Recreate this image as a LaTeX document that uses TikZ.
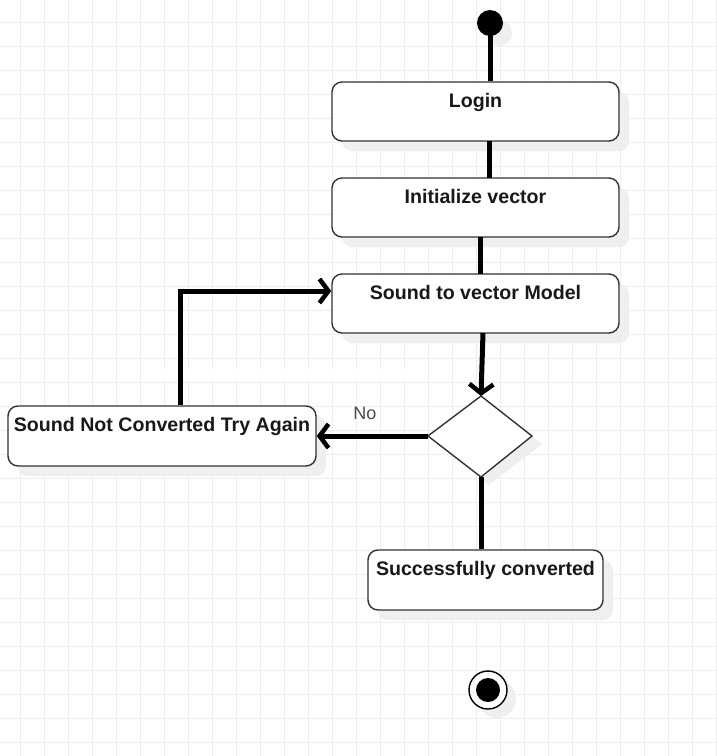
\documentclass[tikz,border=0pt]{standalone}
\usepackage{fontspec}
\setmainfont{Liberation Sans}
\usetikzlibrary{arrows.meta}
\definecolor{gridc}{HTML}{EDEDED}
\definecolor{shadowc}{HTML}{EFEFEF}
\definecolor{edgec}{HTML}{333333}
\tikzset{
  statebox/.style={draw=edgec, line width=1.4pt, fill=white, rounded corners=10pt},
  shadowbox/.style={fill=shadowc, rounded corners=10pt},
  boxlabel/.style={anchor=north, font=\fontsize{19.6}{22}\selectfont\bfseries, text=black!90, inner sep=0pt},
  flow/.style={line width=5pt, draw=black},
  flowarrow/.style={flow, -{Straight Barb[length=9pt, width=24pt, line width=4.5pt]}},
}
\begin{document}
\begin{tikzpicture}[x=1pt, y=-1pt]
\useasboundingbox (0,0) rectangle (717,756);
\fill[white] (0,0) rectangle (717,756);
% grid
\foreach \gx in {20,44,...,716} \draw[gridc, line width=1pt] (\gx,0) -- (\gx,756);
\foreach \gy in {22,46,...,755} \draw[gridc, line width=1pt] (0,\gy) -- (717,\gy);
\fill[white] (145,369) rectangle (425,381);
% shadows
\fill[shadowc] (499,33) circle (13);
\fill[shadowc] (497,699) circle (19);
\fill[shadowbox] (342,92) rectangle (629,151);
\fill[shadowbox] (342,188) rectangle (629,247);
\fill[shadowbox] (342,284) rectangle (629,343);
\fill[shadowbox] (18,416) rectangle (326,476);
\fill[shadowbox] (378,560) rectangle (613,620);
\fill[shadowc] (490,404) -- (542,444) -- (489,485) -- (438,444) -- cycle;
% nodes
\node[circle, fill=black, minimum size=26pt, inner sep=0pt] (start) at (490,23) {};
\node[statebox, minimum width=287pt, minimum height=59pt, inner sep=0pt] (login) at (475.5,111.5) {};
\node[statebox, minimum width=287pt, minimum height=59pt, inner sep=0pt] (init) at (475.5,207.5) {};
\node[statebox, minimum width=287pt, minimum height=59pt, inner sep=0pt] (model) at (475.5,303.5) {};
\node[statebox, minimum width=308pt, minimum height=60pt, inner sep=0pt] (retry) at (162,436) {};
\node[statebox, minimum width=235pt, minimum height=60pt, inner sep=0pt] (done) at (485.5,580) {};
\draw[edgec, line width=1.4pt, fill=white] (481,396) coordinate (dtop) -- (532,436) coordinate (dright) -- (481,477) coordinate (dbot) -- (428,436) coordinate (dleft) -- cycle;
\node[circle, draw=black, line width=1.4pt, fill=white, minimum size=38pt, inner sep=0pt] (endo) at (488,690) {};
\node[circle, fill=black, minimum size=24pt, inner sep=0pt] (endi) at (488,690) {};
% labels
\node[boxlabel] (tlogin) at (475.5,93) {Login};
\node[boxlabel] (tinit) at (475.5,189) {Initialize vector};
\node[boxlabel] (tmodel) at (475.5,285) {Sound to vector Model};
\node[boxlabel] (tretry) at (162,417) {Sound Not Converted Try Again};
\node[boxlabel] (tdone) at (485.5,561) {Successfully converted};
\node[anchor=center, font=\fontsize{18}{20}\selectfont, text=black!70, inner sep=0pt] (no) at (365,413) {No};
% connectors
\draw[flow] (start.center) -- (start.center |- login.north);
\draw[flow] (489,141) -- (489,178);
\draw[flow] (480,237) -- (480,274);
\draw[flowarrow] (483,333) -- (dtop);
\draw[flowarrow] (dleft) -- (retry.east |- dleft);
\coordinate (bend) at (180,291);
\draw[flowarrow] (retry.north -| bend) -- (bend) -- (model.west |- bend);
\draw[flow] (dbot) -- (dbot |- done.north);
\end{tikzpicture}
\end{document}
